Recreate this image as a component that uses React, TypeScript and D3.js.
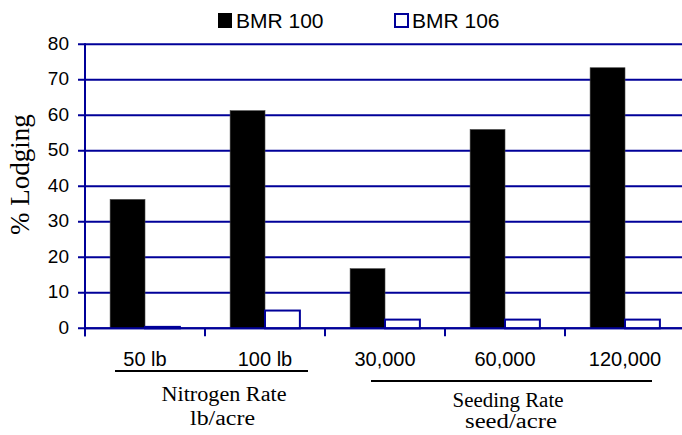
import React from "react";
import * as d3 from "d3";

const categories = ["50 lb", "100 lb", "30,000", "60,000", "120,000"];
const seriesNames = ["BMR 100", "BMR 106"];
const bmr100 = [36.3, 61.3, 16.8, 56.0, 73.4];
const bmr106 = [0.4, 5.0, 2.45, 2.45, 2.45];
const yTicks = [0, 10, 20, 30, 40, 50, 60, 70, 80];

const W = 682;
const H = 435;
const BLUE = "#000099";
const SANS = "'Liberation Sans', Arial, sans-serif";
const SERIF = "'Liberation Serif', 'Times New Roman', serif";

export default function App() {
  const left = 85;
  const plotRight = 685;
  const top = 44.3;
  const bottom = 328.3;

  const x = d3.scaleBand<string>().domain(categories).range([left, plotRight]).paddingInner(0).paddingOuter(0);
  const inner = d3.scaleBand<string>().domain(seriesNames).range([0, x.bandwidth()]).paddingOuter(0.72).paddingInner(0);
  const y = d3.scaleLinear().domain([0, 80]).range([bottom, top]);

  const boundaries = d3.range(categories.length + 1).map((i) => left + i * x.bandwidth());

  return (
    <svg width={W} height={H} style={{ position: "absolute", left: 0, top: 0, background: "#fff" }}>
      {yTicks.map((t) => (
        <line key={"g" + t} x1={left - 7} x2={W} y1={y(t)} y2={y(t)} stroke={BLUE} strokeWidth={2} />
      ))}
      <line x1={left} x2={left} y1={top - 1} y2={bottom + 8} stroke={BLUE} strokeWidth={2} />
      {boundaries.map((b, i) => (
        <line key={"t" + i} x1={b} x2={b} y1={bottom} y2={bottom + 8} stroke={BLUE} strokeWidth={2} />
      ))}
      {yTicks.map((t) => (
        <text key={"l" + t} x={69} y={y(t) - 1} textAnchor="end" dominantBaseline="central" fontFamily={SANS} fontSize={19} fill="#000">
          {t}
        </text>
      ))}
      {categories.map((c, i) => {
        const x0 = x(c)! + inner("BMR 100")!;
        const x1 = x(c)! + inner("BMR 106")!;
        const bw = inner.bandwidth();
        return (
          <g key={c}>
            <rect x={x0} y={y(bmr100[i])} width={bw} height={y(0) - y(bmr100[i])} fill="#000" stroke="#444" strokeWidth={0.6} />
            <rect x={x1} y={y(bmr106[i])} width={bw} height={y(0) - y(bmr106[i])} fill="#fff" stroke={BLUE} strokeWidth={2} />
          </g>
        );
      })}
      <line x1={left} x2={W} y1={bottom} y2={bottom} stroke={BLUE} strokeWidth={2} />
      {categories.map((c) => (
        <text key={"c" + c} x={x(c)! + x.bandwidth() / 2} y={366} textAnchor="middle" fontFamily={SANS} fontSize={20} fill="#000">
          {c}
        </text>
      ))}
      <line x1={115} x2={308} y1={371} y2={371} stroke="#000" strokeWidth={2} />
      <line x1={371} x2={652} y1={381} y2={381} stroke="#000" strokeWidth={2} />
      <text x={224} y={401} textAnchor="middle" fontFamily={SERIF} fontSize={20} textLength={125} lengthAdjust="spacingAndGlyphs" fill="#000">Nitrogen Rate</text>
      <text x={222.5} y={425} textAnchor="middle" fontFamily={SERIF} fontSize={20} textLength={65} lengthAdjust="spacingAndGlyphs" fill="#000">lb/acre</text>
      <text x={508} y={406.5} textAnchor="middle" fontFamily={SERIF} fontSize={20} textLength={111} lengthAdjust="spacingAndGlyphs" fill="#000">Seeding Rate</text>
      <text x={511} y={428} textAnchor="middle" fontFamily={SERIF} fontSize={20} textLength={92} lengthAdjust="spacingAndGlyphs" fill="#000">seed/acre</text>
      <text transform="translate(29,174.5) rotate(-90)" textAnchor="middle" fontFamily={SERIF} fontSize={27} fill="#000">% Lodging</text>
      <rect x={218} y={13} width={14} height={15} fill="#000" />
      <text x={236} y={28} fontFamily={SANS} fontSize={21} fill="#000">{seriesNames[0]}</text>
      <rect x={395} y={14} width={13} height={13} fill="#fff" stroke={BLUE} strokeWidth={2} />
      <text x={412} y={28} fontFamily={SANS} fontSize={21} fill="#000">{seriesNames[1]}</text>
    </svg>
  );
}
